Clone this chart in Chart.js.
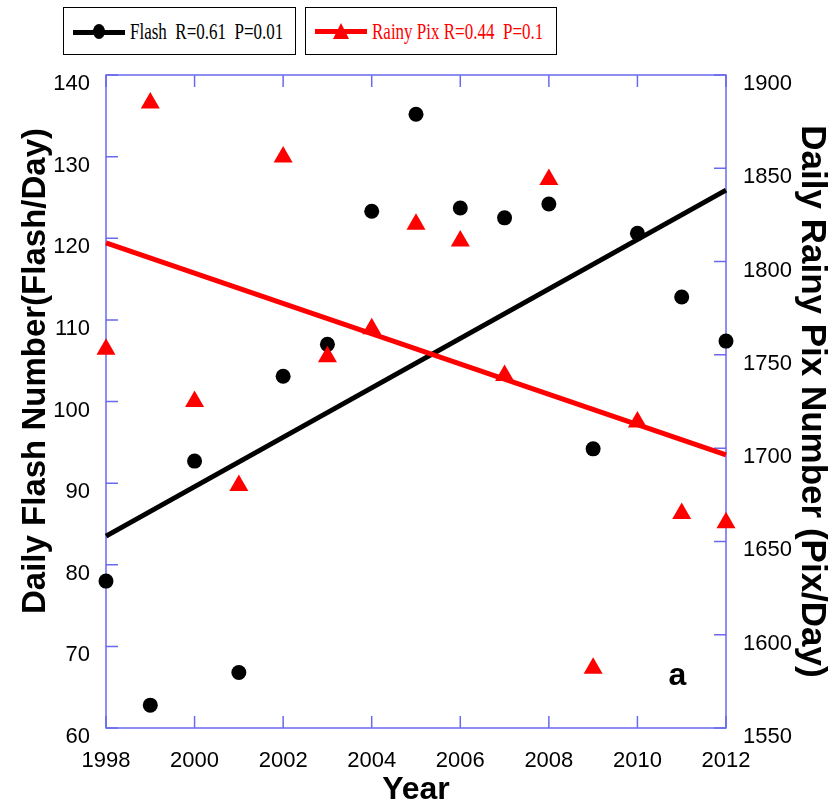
<!DOCTYPE html>
<html><head><meta charset="utf-8">
<script src="https://cdn.jsdelivr.net/npm/chart.js@4.4.1/dist/chart.umd.min.js"></script>
<style>
html,body{margin:0;padding:0;background:#fff;}
#wrap{position:relative;width:836px;height:809px;overflow:hidden;}
#c{position:absolute;left:0;top:0;}
.lg{position:absolute;box-sizing:border-box;border:1.5px solid #000;background:#fff;}
.ln{position:absolute;height:5px;}
.dot{position:absolute;width:12px;height:15px;border-radius:50%;background:#000;}
.tri{position:absolute;width:0;height:0;border-left:8px solid transparent;border-right:8px solid transparent;border-bottom:16px solid #ff0000;}
.txt{position:absolute;font-family:"Liberation Serif","Times New Roman",serif;font-size:17px;line-height:20px;white-space:pre;transform:scaleY(1.3);transform-origin:left center;}
</style></head><body>
<div id="wrap">
<canvas id="c" width="836" height="809"></canvas>
<div class="lg" style="left:63px;top:7px;width:233px;height:48px;"></div>
<div class="ln" style="left:73px;top:30px;width:52px;background:#000;"></div>
<div class="dot" style="left:93px;top:24px;"></div>
<div class="txt" id="lg1" style="left:130px;top:22px;color:#000;"></div>
<div class="lg" style="left:305px;top:7px;width:252px;height:48px;"></div>
<div class="ln" style="left:315px;top:29px;width:52px;background:#ff0000;"></div>
<div class="tri" style="left:333px;top:23px;"></div>
<div class="txt" id="lg2" style="left:372px;top:22px;color:#ff0000;"></div>
</div>
<script>
// ---- data ----
const years = [1998,1999,2000,2001,2002,2003,2004,2005,2006,2007,2008,2009,2010,2011,2012];
const flashValues = [78.0,62.8,92.7,66.8,103.1,107.0,123.3,135.2,123.7,122.5,124.2,94.2,120.6,112.8,107.4];
const rainyPixValues = [1753,1885,1725,1680,1856,1749,1764,1820,1811,1739,1844,1582,1714,1665,1660];
const trendYears = [1998,2012];
const flashTrend = [83.5,125.9];
const rainyPixTrend = [1810,1696.4];
const xTickValues = [1998,2000,2002,2004,2006,2008,2010,2012];
const leftTickValues = [60,70,80,90,100,110,120,130,140];
const rightTickValues = [1550,1600,1650,1700,1750,1800,1850,1900];
const legendLabels = ['Flash  R=0.61  P=0.01','Rainy Pix R=0.44  P=0.1'];
const xTitle = 'Year';
const leftTitle = 'Daily Flash Number(Flash/Day)';
const rightTitle = 'Daily Rainy Pix Number (Pix/Day)';
const panelLabel = 'a';

document.getElementById('lg1').textContent = legendLabels[0];
document.getElementById('lg2').textContent = legendLabels[1];

const FONT = "'Liberation Sans', Arial, sans-serif";
const AXIS_COLOR = '#6a6aee';

const toPts = (xs, ys) => xs.map((x,i)=>({x:x, y:ys[i]}));

const framePlugin = {
  id:'frame',
  beforeDatasetsDraw(chart){
    const {ctx, chartArea:a, scales} = chart;
    ctx.save();
    ctx.strokeStyle = AXIS_COLOR;
    ctx.lineWidth = 1.5;
    ctx.strokeRect(a.left, a.top, a.right-a.left, a.bottom-a.top);
    ctx.beginPath();
    xTickValues.forEach(v=>{
      const p = scales.x.getPixelForValue(v);
      ctx.moveTo(p,a.bottom); ctx.lineTo(p,a.bottom-12);
      ctx.moveTo(p,a.top); ctx.lineTo(p,a.top+12);
    });
    leftTickValues.forEach(v=>{
      const p = scales.y.getPixelForValue(v);
      ctx.moveTo(a.left,p); ctx.lineTo(a.left+12,p);
    });
    rightTickValues.forEach(v=>{
      const p = scales.y1.getPixelForValue(v);
      ctx.moveTo(a.right,p); ctx.lineTo(a.right-12,p);
    });
    ctx.stroke();
    ctx.restore();
  },
  afterDatasetsDraw(chart){
    const {ctx, scales} = chart;
    ctx.save();
    ctx.fillStyle = '#000';
    ctx.font = "bold 32px " + FONT;
    ctx.textAlign = 'center';
    ctx.textBaseline = 'middle';
    ctx.fillText(panelLabel, scales.x.getPixelForValue(2010.9), scales.y.getPixelForValue(66.4));
    ctx.restore();
  },
  afterDraw(chart){
    // left axis title (placed higher than the axis centre, as in the original)
    const {ctx, chartArea:a} = chart;
    ctx.save();
    ctx.fillStyle = '#000';
    ctx.font = "bold 33px " + FONT;
    ctx.textAlign = 'center';
    ctx.textBaseline = 'middle';
    ctx.translate(a.left - 70, a.top + 296);
    ctx.rotate(-Math.PI/2);
    ctx.fillText(leftTitle, 0, 0);
    ctx.restore();
  }
};

new Chart(document.getElementById('c'), {
  type:'scatter',
  data:{datasets:[
    {label:'Rainy Pix', data:toPts(years, rainyPixValues), yAxisID:'y1',
      pointStyle:'triangle', pointRadius:11, pointBackgroundColor:'#ff0000', pointBorderWidth:0, clip:false},
    {label:'Flash', data:toPts(years, flashValues), yAxisID:'y',
      pointStyle:'circle', pointRadius:7.5, pointBackgroundColor:'#000000', pointBorderWidth:0, clip:false},
    {label:'Rainy Pix trend', data:toPts(trendYears, rainyPixTrend), yAxisID:'y1', showLine:true,
      borderColor:'#ff0000', borderWidth:5, pointRadius:0, clip:false},
    {label:'Flash trend', data:toPts(trendYears, flashTrend), yAxisID:'y', showLine:true,
      borderColor:'#000000', borderWidth:5, pointRadius:0, clip:false}
  ]},
  options:{
    responsive:false, animation:false, devicePixelRatio:1,
    layout:{padding:{top:75,left:0,right:0,bottom:0}},
    plugins:{legend:{display:false}, tooltip:{enabled:false}},
    scales:{
      x:{type:'linear', position:'bottom', min:1998, max:2012,
        afterFit:s=>{s.height=81;},
        afterBuildTicks:s=>{s.ticks = xTickValues.map(v=>({value:v}));},
        grid:{display:false, drawTicks:false}, border:{display:false},
        ticks:{font:{family:FONT,size:22}, color:'#000', padding:20, maxRotation:0, minRotation:0, autoSkip:false, callback:v=>String(v)},
        title:{display:true, text:xTitle, color:'#000', font:{family:FONT,size:32,weight:'bold'}, padding:{top:0,bottom:0}}
      },
      y:{type:'linear', position:'left', min:60, max:140,
        afterFit:s=>{s.width=106;},
        afterBuildTicks:s=>{s.ticks = leftTickValues.map(v=>({value:v}));},
        grid:{display:false, drawTicks:false}, border:{display:false},
        ticks:{font:{family:FONT,size:22}, color:'#000', padding:16, labelOffset:9, autoSkip:false, callback:v=>String(v)},
        title:{display:false, text:leftTitle}
      },
      y1:{type:'linear', position:'right', min:1550, max:1900,
        afterFit:s=>{s.width=110;},
        afterBuildTicks:s=>{s.ticks = rightTickValues.map(v=>({value:v}));},
        grid:{display:false, drawTicks:false}, border:{display:false},
        ticks:{font:{family:FONT,size:22}, color:'#000', padding:17, labelOffset:9, autoSkip:false, callback:v=>String(v)},
        title:{display:true, text:rightTitle, color:'#000', font:{family:FONT,size:35,weight:'bold'}, padding:{top:3,bottom:0}}
      }
    }
  },
  plugins:[framePlugin]
});
</script>
</body></html>
